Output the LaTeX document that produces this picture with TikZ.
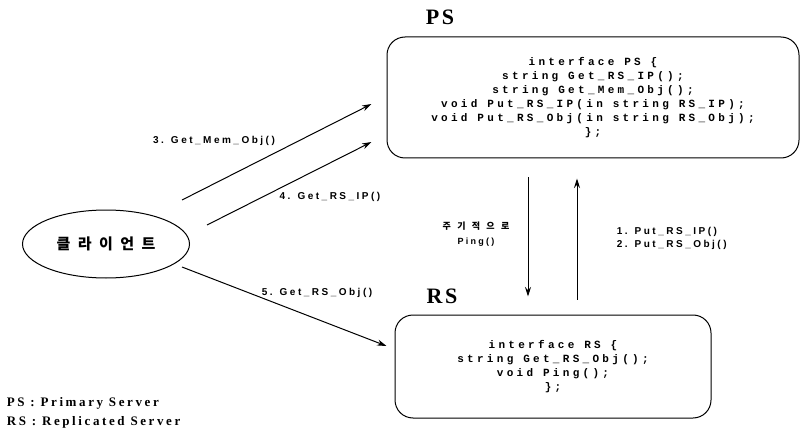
\documentclass[tikz,border=0pt]{standalone}
\usepackage{fontspec}
\setmainfont{Liberation Serif}
\newfontfamily\titlefont[LetterSpace=12]{Liberation Serif}
\newfontfamily\legendfont[LetterSpace=20]{Liberation Serif}
\newfontfamily\labelfont[LetterSpace=25]{Liberation Sans}
\newfontfamily\codefont[LetterSpace=30]{Liberation Mono}
\newfontfamily\krfont[LetterSpace=50]{Noto Sans CJK KR}
\newfontfamily\krsmall[LetterSpace=70]{Noto Sans CJK KR}
\usetikzlibrary{arrows.meta,shapes.geometric}

\begin{document}
\begin{tikzpicture}[x=1pt,y=-1pt,>={Stealth[length=9.5pt,width=6pt]},line width=1pt,
                    server box/.style={draw,rounded corners=18pt,align=center,
                      font=\codefont\bfseries\fontsize{11}{14}\selectfont},
                    client node/.style={ellipse,draw,minimum width=167pt,minimum height=68pt,
                      font=\krfont\bfseries\fontsize{15}{18}\selectfont},
                    title/.style={font=\titlefont\bfseries\fontsize{22}{24}\selectfont},
                    call/.style={font=\labelfont\bfseries\fontsize{10}{13}\selectfont,align=center}]
  \useasboundingbox (0,0) rectangle (801,433);
  \node[server box,minimum width=412pt,minimum height=121pt] (ps) at (593,97.5)
    {interface PS \{\\ string Get\_RS\_IP();\\ string Get\_Mem\_Obj();\\
     void Put\_RS\_IP(in string RS\_IP);\\ void Put\_RS\_Obj(in string RS\_Obj);\\ \};};
  \node[server box,minimum width=316pt,minimum height=103pt] (rs) at (553,366.5)
    {interface RS \{\\ string Get\_RS\_Obj();\\ void Ping();\\ \};};
  \node[client node] (client) at (106,244) {클라이언트};
  \node[title] (pstitle) at (440,17) {PS};
  \node[title] (rstitle) at (442,296) {RS};

  % calls from the client
  \path[->]
    ([shift={(76,-44)}]client.center) edge ([shift={(-15,6.5)}]ps.west)
    ([shift={(101,-19)}]client.center) edge ([shift={(-15,44.5)}]ps.west)
    ([shift={(76,23)}]client.center) edge ([shift={(-8,-20.5)}]rs.west);
  % between the servers
  \path[->]
    ([shift={(-65,19)}]ps.south) edge ([shift={(-25,-18)}]rs.north)
    ([shift={(24,-15)}]rs.north) edge ([shift={(-16,20)}]ps.south);

  \node[call] (getmem) at (214,141) {3. Get\_Mem\_Obj()};
  \node[call] (getip) at (330,197) {4. Get\_RS\_IP()};
  \node[call] (getobj) at (317,293) {5. Get\_RS\_Obj()};
  \node[call,font=\labelfont\bfseries\fontsize{9}{15}\selectfont] (ping) at (476,234)
    {{\krsmall 주기적으로}\\ Ping()};
  \node[call,anchor=west,align=left] (put) at (613,238) {1. Put\_RS\_IP()\\ 2. Put\_RS\_Obj()};

  \node[anchor=west,align=left,font=\legendfont\bfseries\fontsize{13}{19}\selectfont] (legend)
    at (3,413) {PS : Primary Server\\ RS : Replicated Server};
\end{tikzpicture}
\end{document}
